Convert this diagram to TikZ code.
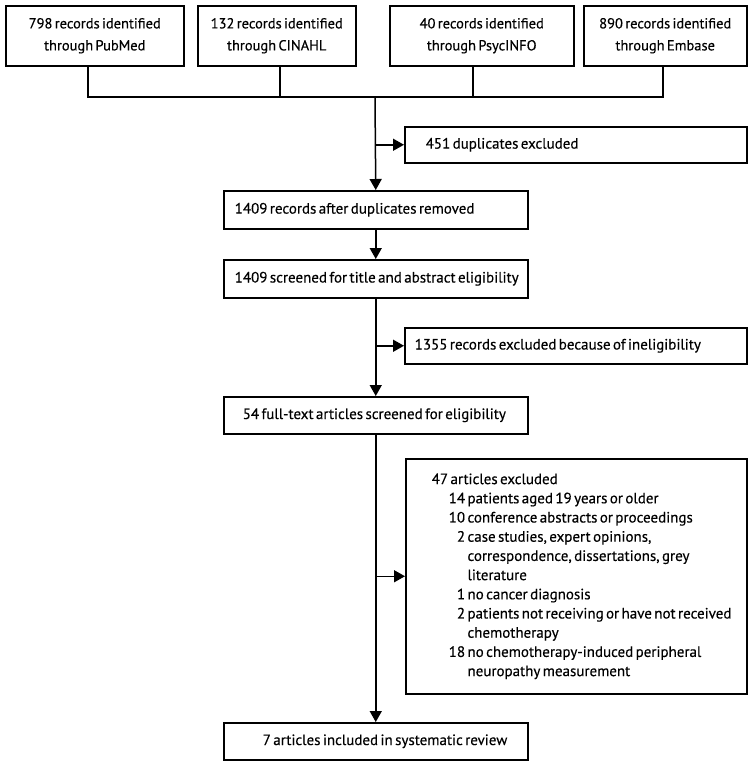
\documentclass[tikz,border=0pt]{standalone}
\usepackage{fontspec}
\setmainfont[WordSpace=0.6,FakeBold=0.3]{PT Sans}
\usetikzlibrary{arrows.meta}
\newcommand{\lbox}[2]{\makebox[#1][l]{#2}}
\begin{document}
\begin{tikzpicture}[x=1pt,y=-1pt,
  box/.style={draw, line width=1.5pt, anchor=north west, inner ysep=0pt, align=left,
    font=\fontsize{15}{19.2}\selectfont},
  topbox/.style={draw, line width=1.5pt, anchor=north west, inner sep=0pt, minimum height=60pt,
    align=center, font=\fontsize{14.5}{22}\selectfont},
  ln/.style={line width=1.5pt},
  arr/.style={line width=1.5pt, -{Triangle[length=11pt,width=12pt]}},
]
\useasboundingbox (0,0) rectangle (752,764);
% top sources
\node[topbox, minimum width=178pt] (b1) at (5,5) {798 records identified\\through PubMed};
\node[topbox, minimum width=158pt] (b2) at (197,5) {132 records identified\\through CINAHL};
\node[topbox, minimum width=184pt] (b3) at (389,5) {40 records identified\\through PsycINFO};
\node[topbox, minimum width=163pt] (b4) at (583,5) {890 records identified\\through Embase};
\coordinate (s1) at (88,97);
\coordinate (s2) at (280,97);
\coordinate (s3) at (473,97);
\coordinate (s4) at (663,97);
\coordinate (j) at (375,97);
\draw[ln] (s1 |- b1.south) -- (s1);
\draw[ln] (s2 |- b2.south) -- (s2);
\draw[ln] (s3 |- b3.south) -- (s3);
\draw[ln] (s4 |- b4.south) -- (s4);
\draw[ln, line cap=rect] (s1) -- (s4);
% main column
\node[box, minimum width=304pt, minimum height=38pt, inner xsep=11pt] (rec) at (223,190) {\lbox{282pt}{1409 records after duplicates removed}};
\node[box, minimum width=304pt, minimum height=38pt, inner xsep=11pt] (scr) at (223,259) {\lbox{282pt}{1409 screened for title and abstract eligibility}};
\node[box, minimum width=304pt, minimum height=37pt, inner xsep=19pt] (full) at (223,396) {\lbox{266pt}{54 full-text articles screened for eligibility}};
\node[box, minimum width=304pt, minimum height=37pt, inner xsep=39pt] (incl) at (223,722) {\lbox{226pt}{7 articles included in systematic review}};
% side boxes
\node[box, minimum width=342pt, minimum height=36pt, inner xsep=21pt] (dup) at (404,126) {\lbox{300pt}{451 duplicates excluded}};
\node[box, minimum width=342pt, minimum height=36pt, inner xsep=10pt] (inel) at (404,327) {\lbox{322pt}{1355 records excluded because of ineligibility}};
\node[box, minimum width=341pt, minimum height=235pt, inner xsep=26pt] (exc) at (405,458) {\lbox{289pt}{%
\begin{tabular}{@{}r@{\ }l@{}}
\multicolumn{2}{@{}l@{}}{47 articles excluded}\\
\hspace*{17pt}14 & patients aged 19 years or older\\
10 & conference abstracts or proceedings\\
2 & case studies, expert opinions,\\
 & correspondence, dissertations, grey\\
 & literature\\
1 & no cancer diagnosis\\
2 & patients not receiving or have not received\\
 & chemotherapy\\
18 & no chemotherapy-induced peripheral\\
 & neuropathy measurement
\end{tabular}}};
% connectors
\draw[arr] (j) -- (rec.north);
\draw[arr] (rec.south) -- (scr.north);
\draw[arr] (scr.south) -- (full.north);
\draw[arr] (full.south) -- (incl.north);
\draw[arr] (dup.west -| j) -- (dup.west);
\draw[arr] (inel.west -| j) -- (inel.west);
\draw[arr] (exc.west -| j) -- (exc.west);
\end{tikzpicture}
\end{document}
